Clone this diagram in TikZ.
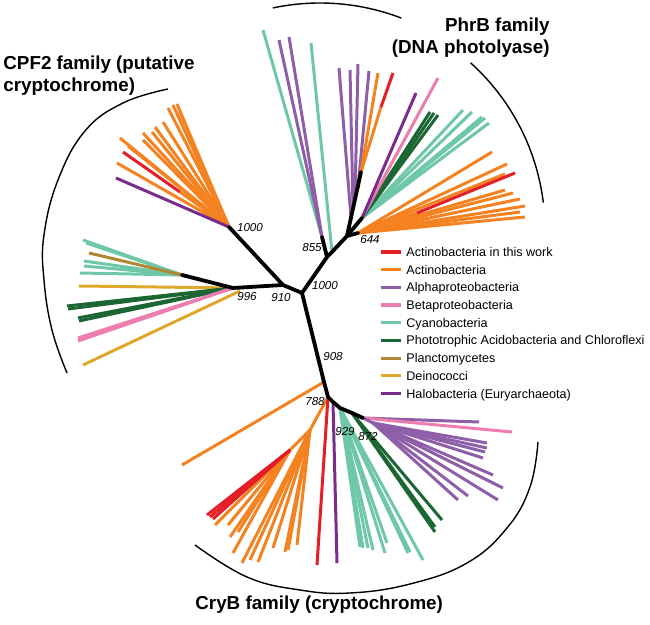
\documentclass[tikz,border=0pt]{standalone}
\usepackage{fontspec}
\setmainfont{Liberation Sans}
\definecolor{cRed}{RGB}{228,30,38}
\definecolor{cOr}{RGB}{245,130,32}
\definecolor{cAl}{RGB}{142,95,168}
\definecolor{cPk}{RGB}{238,125,175}
\definecolor{cCy}{RGB}{110,200,168}
\definecolor{cDg}{RGB}{28,102,52}
\definecolor{cBr}{RGB}{178,134,50}
\definecolor{cYe}{RGB}{222,168,45}
\definecolor{cHa}{RGB}{122,44,140}
\newcommand\fan[4]{\foreach \p [count=\i] in {#4}{\coordinate (#3\i) at (\p); \draw[leaf,#1] (#2) -- (#3\i);}}
\begin{document}
\begin{tikzpicture}[x=0.5pt,y=-0.5pt,
  leaf/.style={line width=1.5pt},
  br/.style={line width=1.9pt,black,line cap=round,line join=round},
  bracket/.style={line width=0.7pt,black},
  boot/.style={font=\fontsize{5.8}{7}\selectfont\itshape,inner sep=0pt},
  legtxt/.style={font=\fontsize{6.3}{7.5}\selectfont,anchor=base west,inner sep=0pt},
  ttl/.style={font=\fontsize{9.4}{11}\selectfont\bfseries,inner sep=0pt}]
\useasboundingbox (0,0) rectangle (650,625);
% ---------- internal nodes ----------
\coordinate (B) at (302,293);
\coordinate (A910) at (283,285);
\coordinate (N1000L) at (229,227);
\coordinate (N996) at (233,288);
\coordinate (N996b) at (240,291);
\coordinate (Ncy) at (182,275);
\coordinate (N855) at (327,257);
\coordinate (N855a) at (322,237);
\coordinate (Ncy2) at (332,252);
\coordinate (N644) at (347,236);
\coordinate (Nst) at (361,172);
\coordinate (Nr) at (362,218);
\coordinate (Nof) at (358,233);
\coordinate (s1) at (351,217);
\coordinate (s2) at (353,207);
\coordinate (s3) at (355,198);
\coordinate (s4) at (358,188);
\coordinate (N908) at (324,382);
\coordinate (N788) at (328,397);
\coordinate (Nhb) at (333,402);
\coordinate (N929) at (340,408);
\coordinate (N872) at (352,413);
\coordinate (Npp) at (363,418);
\coordinate (Npf) at (373,423);
\coordinate (NoA) at (310,430);
\coordinate (NoB) at (290,450);
% ---------- PhrB ----------
\fan{cCy}{N855a}{pa}{{263,30}}
\fan{cAl}{N855a}{pb}{{279,40},{289,37}}
\fan{cCy}{Ncy2}{pc}{{311,43}}
\fan{cAl}{s1}{pd}{{339,68}}
\fan{cAl}{s2}{pe}{{350,70}}
\fan{cAl}{s3}{pf}{{358,64}}
\fan{cAl}{s4}{pg}{{369,71}}
\fan{cOr}{Nst}{ph}{{378,73},{381,107}}
\fan{cRed}{ph2}{pi}{{393,73}}
\fan{cCy}{Nr}{pj}{{463,110},{472,112},{482,117},{485,118},{489,123}}
\fan{cDg}{Nr}{pk}{{430,112},{434,113},{438,115}}
\fan{cPk}{Nr}{pl}{{438,78}}
\fan{cHa}{Nr}{pm}{{416,93}}
\fan{cOr}{Nof}{pn}{{492,152},{507,164},{505,174},{505,190},{513,193},{520,199},{525,206},{520,212},{525,217},{417,213}}
\fan{cRed}{pn10}{po}{{515,173}}
% ---------- CPF2 ----------
\fan{cOr}{N1000L}{ca}{{117,163},{120,138},{128,146},{143,133},{143,140},{152,132},{155,127},{163,122},{168,108},{173,105},{177,104},{177,113},{180,192}}
\fan{cRed}{ca13}{cb}{{123,152}}
\fan{cHa}{N1000L}{cc}{{116,178}}
\fan{cCy}{Ncy}{cd}{{83,240},{86,243},{84,261},{84,266},{80,273}}
\fan{cBr}{Ncy}{ce}{{89,253}}
\fan{cYe}{N996}{cf}{{79,286}}
\fan{cDg}{N996}{cg}{{67,306},{68,309},{78,318},{79,321}}
\fan{cPk}{N996}{ch}{{78,338},{78,341}}
\fan{cYe}{N996b}{ci}{{83,365}}
% ---------- CryB ----------
\fan{cOr}{N908}{ka}{{182,465}}
\draw[leaf,cOr] (N788) -- (NoA);
\fan{cOr}{NoA}{kc}{{258,562},{273,548},{285,552},{288,550},{297,545},{250,560},{242,563}}
\draw[leaf,cOr] (NoA) -- (NoB);
\fan{cOr}{NoB}{kd}{{215,525},{228,525},{230,537},{238,532},{233,553}}
\fan{cRed}{NoB}{ke}{{207,515},{210,517},{213,519}}
\fan{cRed}{N788}{kf}{{317,565}}
\fan{cHa}{Nhb}{kg}{{337,563}}
\fan{cCy}{N929}{kh}{{360,547},{363,548},{368,548},{373,550},{385,553},{387,543},{408,553},{410,552},{423,560}}
\fan{cDg}{N872}{ki}{{442,520},{435,527},{435,532}}
\fan{cAl}{Npp}{kj}{{479,422}}
\fan{cPk}{Npp}{kk}{{512,432}}
\draw[leaf,cAl] (Npp) -- (Npf);
\fan{cAl}{Npf}{kl}{{487,443},{487,448},{485,452},{483,458},{493,475},{503,488},{498,500},{468,496},{458,500}}
% ---------- black backbone ----------
\draw[br] (N1000L) -- (A910) -- (B) -- (N855) -- (Ncy2) -- (N644) -- (Nst);
\draw[br] (N855) -- (N855a);
\draw[br] (N644) -- (Nr);
\draw[br] (N644) -- (Nof);
\draw[br] (A910) -- (N996) -- (Ncy);
\draw[br] (B) -- (N908) -- (N788) -- (Nhb) -- (N929) -- (N872) -- (Npp);
% ---------- brackets ----------
\draw[bracket] plot[domain=-102:-69,samples=40] ({320+227*cos(\x)},{230+227*sin(\x)});
\draw[bracket] plot[domain=-48:-7,samples=40] ({320+225*cos(\x)},{230+225*sin(\x)});
\draw[bracket] plot[smooth,tension=0.7] coordinates {(168,89) (123,103) (85,131) (58,180) (44,235) (44,280) (52,330) (67,373)};
\draw[bracket] plot[smooth,tension=0.7] coordinates {(195,545) (247,577) (300,590) (350,593) (410,584) (467,563) (507,528) (530,487) (538,442)};
% ---------- bootstrap values ----------
\node[boot] (b1000a) at (250,228) {1000};
\node[boot] (b855) at (312,248) {855};
\node[boot] (b644) at (370,240) {644};
\node[boot] (b910) at (281,298) {910};
\node[boot] (b1000b) at (325,286) {1000};
\node[boot] (b996) at (247,297) {996};
\node[boot] (b908) at (333,357) {908};
\node[boot] (b788) at (315,402) {788};
\node[boot] (b929) at (345,432) {929};
\node[boot] (b872) at (368,437) {872};
% ---------- titles ----------
\node[ttl,anchor=base east] (phrb1) at (550,32) {PhrB family};
\node[ttl,anchor=base east] (phrb2) at (550,54) {(DNA photolyase)};
\node[ttl,anchor=base west] (cpf1) at (3,70) {CPF2 family (putative};
\node[ttl,anchor=base west] (cpf2) at (3,92) {cryptochrome)};
\node[ttl,anchor=base west] (cryb) at (195,610) {CryB family (cryptochrome)};
% ---------- legend ----------
\foreach \c/\t [count=\i] in {cRed/Actinobacteria in this work,cOr/Actinobacteria,cAl/Alphaproteobacteria,cPk/Betaproteobacteria,cCy/Cyanobacteria,cDg/Phototrophic Acidobacteria and Chloroflexi,cBr/Planctomycetes,cYe/Deinococci,cHa/Halobacteria (Euryarchaeota)}{
  \coordinate (la\i) at ({381},{252+17.7*(\i-1)});
  \coordinate (lb\i) at ({401},{252+17.7*(\i-1)});
  \draw[line width=1.6pt,\c] (la\i) -- (lb\i);
  \node[legtxt] (lt\i) at ({406},{256.5+17.7*(\i-1)}) {\t};
}
\end{tikzpicture}
\end{document}
